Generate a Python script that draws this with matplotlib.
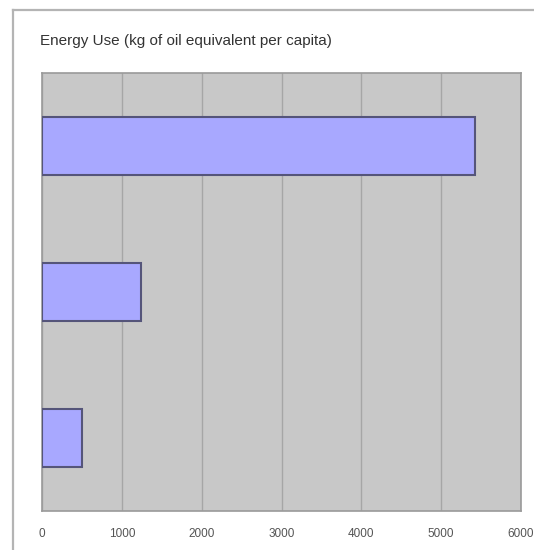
import matplotlib.pyplot as plt
from matplotlib.lines import Line2D

plt.rcParams['font.family'] = ['Liberation Sans', 'DejaVu Sans']

title = "Energy Use (kg of oil equivalent per capita)"
categories = ['A', 'B', 'C']
energy_use = [5420, 1240, 500]
x_ticks = [0, 1000, 2000, 3000, 4000, 5000, 6000]

fig = plt.figure(figsize=(5.34, 5.5), dpi=100)
fig.patch.set_facecolor('white')

# outer chart frame (top and left edges visible)
fig.add_artist(Line2D([13 / 534, 13 / 534], [0, 1 - 10 / 550], color='#b4b4b4', lw=1.6))
fig.add_artist(Line2D([13 / 534, 1], [1 - 10 / 550, 1 - 10 / 550], color='#b4b4b4', lw=1.6))

ax = fig.add_axes([42 / 534, 1 - 511 / 550, 479 / 534, 438 / 550])
ax.set_facecolor('#c8c8c8')

pos = range(len(categories))
ax.barh(pos, energy_use, height=0.4, color='#a8a8ff', edgecolor='#55557a', linewidth=1.5, zorder=3)

ax.set_xlim(0, 6000)
ax.set_ylim(2.5, -0.5)
ax.set_xticks(x_ticks)
ax.set_xticklabels([str(t) for t in x_ticks])
ax.set_yticks([])
ax.tick_params(axis='x', length=0, pad=12, labelsize=8.5, labelcolor='#555555')
ax.grid(axis='x', color='#a6a6a6', linewidth=1.0, zorder=1)
for s in ax.spines.values():
    s.set_color('#9a9a9a')
    s.set_linewidth(1.2)

fig.text(40 / 534, 1 - 41 / 550, title, fontsize=11, color='#333333', va='center', ha='left')

fig.savefig('out.png', dpi=100)
